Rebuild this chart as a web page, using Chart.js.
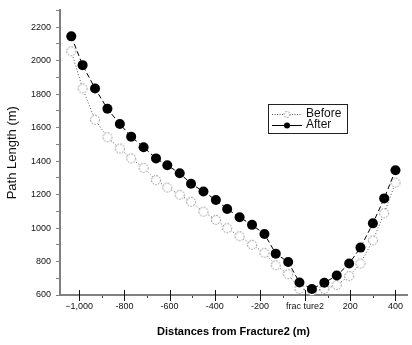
<!DOCTYPE html>
<html>
<head>
<meta charset="utf-8">
<script src="https://cdn.jsdelivr.net/npm/chart.js@4.4.1/dist/chart.umd.min.js"></script>
<style>
    html, body { margin: 0; padding: 0; background: #fff; }
    canvas { display: block; }
</style>
</head>
<body>
<canvas id="chart-path" width="412" height="345"></canvas>
<script>
// Values
const distances = [-1035, -985, -930, -875, -820, -770, -715, -660, -610, -555, -505, -450, -395, -345,
    -290, -235, -180, -130, -75, -25, 30, 85, 140, 195, 245, 300, 350, 400];
const beforeLength = [2056, 1834, 1647, 1542, 1475, 1416, 1360, 1286, 1242, 1199, 1157, 1098, 1049, 999,
    951, 900, 852, 778, 724, 636, 624, 636, 659, 713, 788, 926, 1088, 1271];
const afterLength = [2145, 1973, 1834, 1712, 1621, 1546, 1483, 1416, 1375, 1327, 1265, 1218, 1167, 1114,
    1064, 1019, 964, 847, 797, 675, 636, 673, 716, 788, 883, 1028, 1177, 1345];
const xTickValues = [-1000, -800, -600, -400, -200, 0, 200, 400];
const xTickLabels = ['\u22121,000', '-800', '-600', '-400', '-200', 'frac ture2', '200', '400'];
const xMinorValues = [-900, -700, -500, -300, -100, 100, 300];

const FONT = 'Liberation Sans, Arial, sans-serif';

// open circle with a dotted rim, used as the "Before" marker
function makeOpenCircle(r) {
    const c = document.createElement('canvas');
    c.width = c.height = r * 2 + 3;
    const g = c.getContext('2d');
    g.beginPath();
    g.arc(c.width / 2, c.height / 2, r, 0, Math.PI * 2);
    g.fillStyle = '#fff';
    g.fill();
    g.setLineDash([1.5, 1.5]);
    g.strokeStyle = '#7a7a7a';
    g.lineWidth = 1;
    g.stroke();
    return c;
}
const openCircle = makeOpenCircle(4.5);
const smallOpenCircle = makeOpenCircle(3);

const toPoints = (ys) => ys.map((y, i) => ({ x: distances[i], y: y }));

// crossing tick marks on the x axis, plus minor dots
const xTickMarks = {
    id: 'xTickMarks',
    afterDraw(chart) {
        const ctx = chart.ctx;
        const xs = chart.scales.x;
        const yb = chart.chartArea.bottom;
        ctx.save();
        ctx.strokeStyle = '#111';
        ctx.lineWidth = 1;
        xTickValues.forEach(v => {
            const px = Math.round(xs.getPixelForValue(v)) + 0.5;
            ctx.beginPath();
            ctx.moveTo(px, yb - 5);
            ctx.lineTo(px, yb + 6);
            ctx.stroke();
        });
        ctx.fillStyle = '#444';
        xMinorValues.forEach(v => {
            const px = Math.round(xs.getPixelForValue(v));
            ctx.fillRect(px, yb + 1, 1, 2);
        });
        ctx.restore();
    }
};

// boxed legend sitting inside the plot
const boxLegend = {
    id: 'boxLegend',
    afterDraw(chart) {
        const ctx = chart.ctx;
        const left = 268, top = 104, w = 79, h = 29;
        ctx.save();
        ctx.strokeStyle = '#222';
        ctx.lineWidth = 1;
        ctx.strokeRect(left + 0.5, top + 0.5, w, h);

        // Before
        let y = top + 10.5;
        ctx.setLineDash([1, 1.5]);
        ctx.strokeStyle = '#555';
        ctx.beginPath();
        ctx.moveTo(left + 4, y);
        ctx.lineTo(left + 34, y);
        ctx.stroke();
        ctx.drawImage(smallOpenCircle, left + 19 - smallOpenCircle.width / 2, y - smallOpenCircle.height / 2);

        // After
        y = top + 21.5;
        ctx.setLineDash([]);
        ctx.strokeStyle = '#000';
        ctx.beginPath();
        ctx.moveTo(left + 4, y);
        ctx.lineTo(left + 34, y);
        ctx.stroke();
        ctx.fillStyle = '#000';
        ctx.beginPath();
        ctx.arc(left + 19, y, 3, 0, Math.PI * 2);
        ctx.fill();

        ctx.fillStyle = '#111';
        ctx.font = '12px ' + FONT;
        ctx.textBaseline = 'middle';
        ctx.fillText('Before', left + 38, top + 10);
        ctx.fillText('After', left + 38, top + 21);
        ctx.restore();
    }
};

new Chart(document.getElementById('chart-path'), {
    type: 'line',
    data: {
        datasets: [
            {
                label: 'After',
                data: toPoints(afterLength),
                order: 0,
                borderColor: '#000',
                borderWidth: 1,
                borderDash: [5, 3],
                pointRadius: 5,
                pointBackgroundColor: '#000',
                pointBorderColor: '#000',
                pointBorderWidth: 0,
                tension: 0,
                clip: false
            },
            {
                label: 'Before',
                data: toPoints(beforeLength),
                order: 1,
                borderColor: '#555',
                borderWidth: 1,
                borderDash: [1, 2],
                pointStyle: openCircle,
                tension: 0,
                clip: false
            }
        ]
    },
    options: {
        responsive: false,
        devicePixelRatio: 1,
        animation: false,
        layout: { padding: { top: 8, right: 0, left: 0, bottom: 0 } },
        plugins: {
            legend: { display: false },
            tooltip: { enabled: false }
        },
        scales: {
            x: {
                type: 'linear',
                min: -1085,
                max: 451,
                afterFit(scale) { scale.height = 50; },
                afterBuildTicks(scale) {
                    scale.ticks = xTickValues.map(v => ({ value: v }));
                },
                border: { color: '#808080', width: 2 },
                grid: { drawOnChartArea: false, drawTicks: true, tickLength: 5, color: 'rgba(0,0,0,0)' },
                ticks: {
                    autoSkip: false,
                    maxRotation: 0,
                    padding: 1,
                    color: '#111',
                    font: { family: FONT, size: 9 },
                    callback: (v) => xTickLabels[xTickValues.indexOf(v)]
                },
                title: {
                    display: true,
                    text: 'Distances from Fracture2 (m)',
                    color: '#000',
                    font: { family: FONT, size: 11, weight: 'bold' },
                    padding: { top: 0, bottom: 6 }
                }
            },
            y: {
                type: 'linear',
                min: 600,
                max: 2300,
                afterFit(scale) { scale.width = 60; },
                border: { color: '#808080', width: 2 },
                grid: { drawOnChartArea: false, drawTicks: true, tickLength: 4, color: '#808080' },
                ticks: {
                    stepSize: 100,
                    padding: 5,
                    color: '#111',
                    font: { family: FONT, size: 9 },
                    callback: (v) => (v % 200 === 0 ? String(v) : '')
                },
                title: {
                    display: true,
                    text: 'Path Length (m)',
                    color: '#111',
                    font: { family: FONT, size: 13 },
                    padding: { top: 5, bottom: 0 }
                }
            }
        }
    },
    plugins: [xTickMarks, boxLegend]
});
</script>
</body>
</html>
